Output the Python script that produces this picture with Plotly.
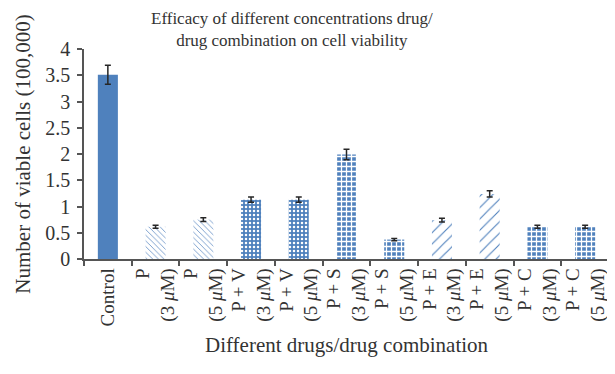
import plotly.graph_objects as go

categories = ["Control", "P<br>(3 <i>μ</i>M)", "P<br>(5 <i>μ</i>M)", "P + V<br>(3 <i>μ</i>M)",
              "P + V<br>(5 <i>μ</i>M)", "P + S<br>(3 <i>μ</i>M)", "P + S<br>(5 <i>μ</i>M)",
              "P + E<br>(3 <i>μ</i>M)", "P + E<br>(5 <i>μ</i>M)", "P + C<br>(3 <i>μ</i>M)",
              "P + C<br>(5 <i>μ</i>M)"]
values = [3.51, 0.615, 0.75, 1.13, 1.13, 1.99, 0.37, 0.74, 1.24, 0.615, 0.615]
errors = [0.18, 0.03, 0.035, 0.05, 0.05, 0.1, 0.02, 0.035, 0.06, 0.03, 0.03]

BLUE = "#4f81bd"
WHITE = "#ffffff"
shapes = ["", "\\", "\\", ".", ".", "+", "+", "/", "/", "+", "+"]
fg = [BLUE, "#6f97c9", "#6f97c9", WHITE, WHITE, WHITE, WHITE, BLUE, BLUE, WHITE, WHITE]
bg = [BLUE, WHITE, WHITE, BLUE, BLUE, BLUE, BLUE, WHITE, WHITE, BLUE, BLUE]
psize = [6, 4, 4, 4, 4, 5, 5, 8, 8, 5, 5]
psol = [0.3, 0.22, 0.22, 0.3, 0.3, 0.45, 0.45, 0.14, 0.14, 0.45, 0.45]

FONT = "Liberation Serif"
TXT = "#333333"

# page body has an 8px default margin; figure is sized/offset to compensate
fig = go.Figure(go.Bar(
    x=categories, y=values,
    marker=dict(color=BLUE, line=dict(width=0),
                pattern=dict(shape=shapes, fgcolor=fg, bgcolor=bg, size=psize,
                             solidity=psol, fillmode="replace")),
    error_y=dict(type="data", array=errors, visible=True, color="#262626",
                 thickness=1.5, width=3),
))

fig.add_annotation(
    text="Efficacy of different concentrations drug/<br>drug combination on cell viability",
    xref="paper", yref="paper", x=(292 - 84) / (609 - 84), y=1,
    xanchor="center", yanchor="bottom", showarrow=False, yshift=-3,
    font=dict(family=FONT, size=17, color=TXT),
)
fig.add_annotation(
    text="Different drugs/drug combination",
    xref="paper", yref="paper", x=0.5, y=0,
    xanchor="center", yanchor="middle", showarrow=False, yshift=-86,
    font=dict(family=FONT, size=21, color=TXT),
)

fig.update_layout(
    width=607, height=366,
    paper_bgcolor="white", plot_bgcolor="white",
    margin=dict(l=76, r=6, t=41, b=115),
    bargap=0.58,
    showlegend=False,
    font=dict(family=FONT, size=19, color=TXT),
    xaxis=dict(
        type="category", tickangle=-90, tickson="boundaries", automargin=False,
        ticks="outside", ticklen=5, tickcolor="#555", tickwidth=1.5,
        showline=True, linecolor="#555", linewidth=1.5,
        tickfont=dict(family=FONT, size=19, color=TXT),
        showgrid=False,
    ),
    yaxis=dict(
        range=[0, 4], dtick=0.5, tick0=0, automargin=False,
        ticks="outside", ticklen=5, tickcolor="#555", tickwidth=1.5,
        showline=True, linecolor="#555", linewidth=1.5,
        showgrid=False, zeroline=False, ticklabelstandoff=3,
        tickfont=dict(family=FONT, size=20, color=TXT),
        title=dict(text="Number of viable cells (100,000)", standoff=9,
                   font=dict(family=FONT, size=21, color=TXT)),
    ),
)

fig.write_html("out.html")
